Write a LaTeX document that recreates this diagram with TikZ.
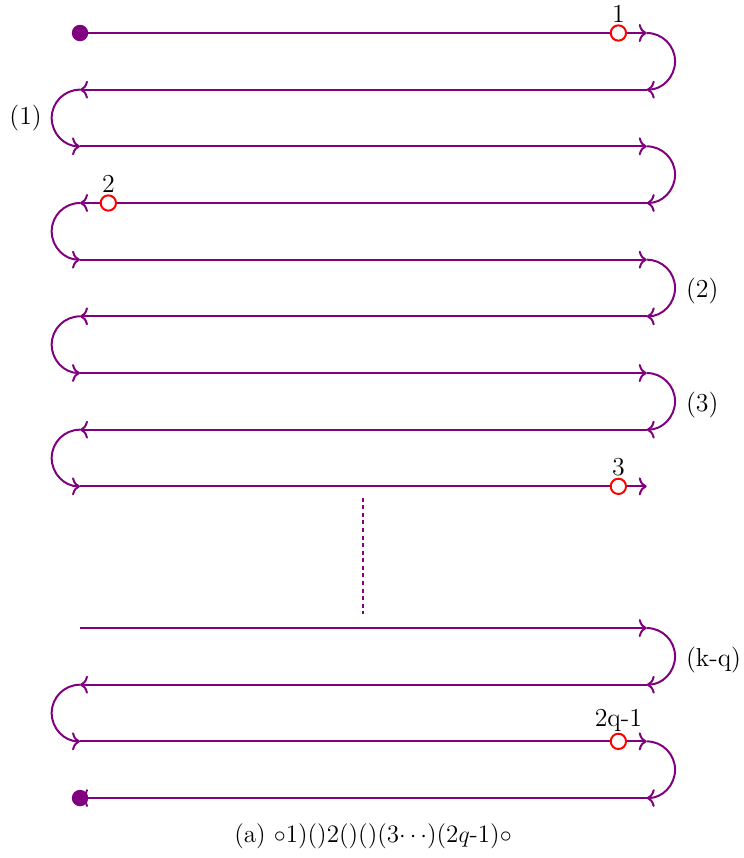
\documentclass[tikz,border=0pt]{standalone}
\usetikzlibrary{arrows.meta}
\definecolor{trailc}{RGB}{128,0,128}
\tikzset{
  trail/.style={draw=trailc, line width=1pt, -{To[length=4pt,width=9pt]}},
  redmark/.style={circle, draw=red, line width=1pt, fill=white, minimum size=0.27cm, inner sep=0pt},
  enddot/.style={circle, fill=trailc, minimum size=0.29cm, inner sep=0pt},
  lab/.style={font=\fontsize{13}{15}\selectfont},
}
\begin{document}
\begin{tikzpicture}
\useasboundingbox (-1.412,0.582) rectangle (11.70,-14.558);
\foreach \i/\y in {0/0,1/-1,2/-2,3/-3,4/-4,5/-5,6/-6,7/-7,8/-8,9/-10.5,10/-11.5,11/-12.5,12/-13.5}{
  \coordinate (L\i) at (0,\y);
  \coordinate (R\i) at (10,\y);
}
% straight runs
\foreach \i in {0,2,4,6,8,9,11} \draw[trail] (L\i) -- (R\i);
\foreach \i in {1,3,5,7,10,12} \draw[trail] (R\i) -- (L\i);
% turns
\foreach \i in {0,2,4,6,9,11} \draw[trail] (R\i) arc[start angle=90,end angle=-90,radius=0.5];
\foreach \i in {1,3,5,7,10} \draw[trail] (L\i) arc[start angle=90,end angle=270,radius=0.5];
% dotted gap
\coordinate (D1) at (5,-8.2);
\coordinate (D2) at (5,-10.25);
\draw[draw=trailc, line width=1pt, dash pattern=on 2pt off 1.8pt] (D1) -- (D2);
% end dots
\node[enddot] (start) at (L0) {};
\node[enddot] (stop) at (L12) {};
% red marks
\node[redmark, label={[lab,inner sep=0.5pt]above:1}] (m1) at (9.5,0) {};
\node[redmark, label={[lab,inner sep=0.5pt]above:2}] (m2) at (0.5,-3) {};
\node[redmark, label={[lab,inner sep=0.5pt]above:3}] (m3) at (9.5,-8) {};
\node[redmark, label={[lab,inner sep=0.5pt]above:2q-1}] (m4) at (9.5,-12.5) {};
% labels
\node[lab,left] (t1) at (-0.55,-1.5) {(1)};
\node[lab,right] (t2) at (10.57,-4.56) {(2)};
\node[lab,right] (t3) at (10.57,-6.56) {(3)};
\node[lab,right] (t4) at (10.57,-11.06) {(k-q)};
% caption
\node[font=\fontsize{12.6}{15}\selectfont] (cap) at (5.17,-14.17) {(a) $\circ$1)()2()()(3$\cdots$)(2$q$-1)$\circ$};
\end{tikzpicture}
\end{document}
